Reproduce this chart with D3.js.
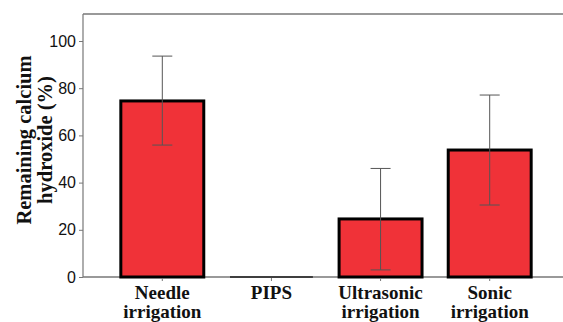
<!DOCTYPE html>
<html>
<head>
<meta charset="utf-8">
<script src="https://cdn.jsdelivr.net/npm/d3@7"></script>
<style>
  body { margin: 0; background: #fff; }
  svg { display: block; }
</style>
</head>
<body>
<svg id="chart" width="563" height="322"></svg>
<script>
let categories = [['Needle', 'irrigation'], ['PIPS'], ['Ultrasonic', 'irrigation'], ['Sonic', 'irrigation']];
let means = [74.6, 0, 24.6, 53.8];
let errLow = [55.9, 0, 3, 30.5];
let errHigh = [93.6, 0, 46, 77.1];
let yTicks = [0, 20, 40, 60, 80, 100];

let svg = d3.select('#chart');

let plotLeft = 83, plotRight = 563, plotTop = 14, plotBottom = 277;

let x = d3.scaleBand()
    .domain(d3.range(categories.length))
    .range([99, 553])
    .paddingInner(0.24)
    .paddingOuter(0.2);

let y = d3.scaleLinear()
    .domain([0, 100])
    .range([plotBottom, 41]);

// frame top line
svg.append('line')
    .attr('x1', plotLeft).attr('x2', plotRight)
    .attr('y1', plotTop).attr('y2', plotTop)
    .attr('stroke', '#777').attr('stroke-width', 1.5);

// y axis
let yAxis = svg.append('g')
    .attr('transform', 'translate(' + plotLeft + ',0)')
    .call(d3.axisLeft(y).tickValues(yTicks).tickSize(4).tickPadding(3));
yAxis.select('.domain').remove();
yAxis.append('line')
    .attr('x1', 0).attr('x2', 0).attr('y1', plotTop).attr('y2', plotBottom)
    .attr('stroke', '#777').attr('stroke-width', 1.2);
yAxis.selectAll('.tick line').attr('stroke', '#777');
yAxis.selectAll('.tick text')
    .attr('fill', '#111')
    .style('font-family', 'Liberation Sans, Arial, sans-serif')
    .style('font-size', '16px');

// x axis line
svg.append('line')
    .attr('x1', plotLeft).attr('x2', plotRight).attr('y1', plotBottom).attr('y2', plotBottom)
    .attr('stroke', '#777').attr('stroke-width', 1.5);

// bars
svg.selectAll('rect.bar')
    .data(means)
    .enter()
    .append('rect')
    .attr('class', 'bar')
    .attr('x', (d, i) => x(i))
    .attr('width', x.bandwidth())
    .attr('y', d => y(d))
    .attr('height', d => y(0) - y(d))
    .attr('fill', '#f03238')
    .attr('stroke', '#000')
    .attr('stroke-width', 3);

// zero-height bars show as a flat line
svg.selectAll('line.zero')
    .data(means.map((d, i) => ({ d, i })).filter(o => o.d === 0))
    .enter()
    .append('line')
    .attr('class', 'zero')
    .attr('x1', o => x(o.i)).attr('x2', o => x(o.i) + x.bandwidth())
    .attr('y1', o => y(o.d)).attr('y2', o => y(o.d))
    .attr('stroke', '#222').attr('stroke-width', 1.5);

// error bars
means.forEach((m, i) => {
    if (m <= 0) return;
    let cx = x(i) + x.bandwidth() / 2;
    let g = svg.append('g').attr('stroke', '#555').attr('stroke-width', 1);
    g.append('line').attr('x1', cx).attr('x2', cx).attr('y1', y(errHigh[i])).attr('y2', y(errLow[i]));
    g.append('line').attr('x1', cx - 10).attr('x2', cx + 10).attr('y1', y(errHigh[i])).attr('y2', y(errHigh[i]));
    g.append('line').attr('x1', cx - 10).attr('x2', cx + 10).attr('y1', y(errLow[i])).attr('y2', y(errLow[i]));
});

// x ticks and labels
let xAxis = svg.append('g')
    .attr('transform', 'translate(0,' + plotBottom + ')');
categories.forEach((c, i) => {
    let cx = x(i) + x.bandwidth() / 2;
    xAxis.append('line').attr('x1', cx).attr('x2', cx).attr('y1', 1).attr('y2', 4).attr('stroke', '#777');
    c.forEach((line, k) => {
        xAxis.append('text')
            .attr('x', cx)
            .attr('y', 22 + k * 19)
            .attr('text-anchor', 'middle')
            .style('font-family', 'Liberation Serif, Times New Roman, serif')
            .style('font-weight', 'bold')
            .style('font-size', '19px')
            .attr('fill', '#111')
            .text(line);
    });
});

// y label
let yl = svg.append('text')
    .attr('transform', 'translate(31,140) rotate(-90)')
    .attr('text-anchor', 'middle')
    .style('font-family', 'Liberation Serif, Times New Roman, serif')
    .style('font-weight', 'bold')
    .style('font-size', '20.5px')
    .attr('fill', '#111');
yl.append('tspan').attr('x', 0).attr('y', 0).text('Remaining  calcium');
yl.append('tspan').attr('x', 0).attr('y', 21).text('hydroxide (%)');
</script>
</body>
</html>
